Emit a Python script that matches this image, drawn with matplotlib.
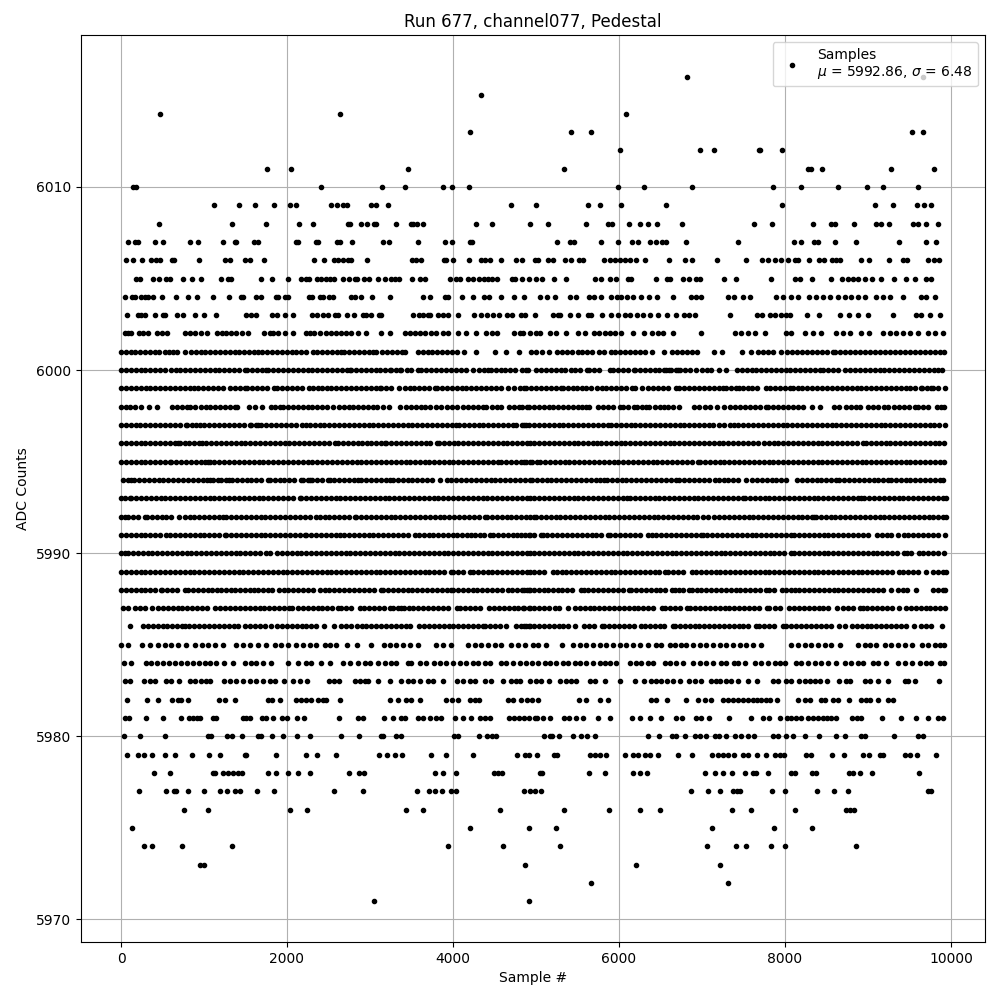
import matplotlib
matplotlib.use("Agg")
import matplotlib.pyplot as plt

title = "Run 677, channel077, Pedestal"
mean_adc = 5992.86
sigma_adc = 6.48

s6016 = [6819, 9663]
s6015 = [4337]
s6014 = [470, 2639, 6084]
s6013 = [4205, 5422, 5663, 9530, 9663]
s6012 = [6008, 6976, 7145, 7687, 7700, 7964]
s6011 = [1759, 2048, 3458, 5337, 8277, 8317, 8446, 9277, 9795]
s6010 = [145, 185, 2410, 3145, 3422, 3880, 3988, 4193, 5988, 6301, 6880, 7855, 8193, 8639, 8988, 9181, 9602]
s6009 = [1120, 1422, 1614, 1843, 2032, 2112, 2534, 2602, 2675, 2723, 3008, 3076, 3217, 4699, 5000, 5627, 5771, 6024, 6566, 7964, 9084, 9301, 9590, 9679, 9763]
s6008 = [458, 1337, 1747, 2145, 2313, 2735, 2763, 2892, 2964, 3044, 3076, 3313, 3490, 3518, 3566, 3638, 4277, 4470, 4928, 5145, 5598, 5867, 5920, 6120, 6253, 6349, 6458, 6759, 7626, 7843, 8337, 8550, 8606, 8831, 9100, 9153, 9253, 9542, 9602, 9699, 9843]
s6007 = [84, 165, 205, 410, 506, 831, 928, 1229, 1370, 1390, 1598, 1655, 2104, 2128, 2345, 2377, 2602, 2635, 2783, 3157, 3229, 3578, 3904, 3988, 4205, 4229, 5253, 5414, 5458, 5783, 5988, 6157, 6229, 6369, 6442, 6514, 6562, 6807, 7434, 8108, 8193, 8345, 8402, 8602, 8855, 9373, 9699, 9819]
s6006 = [60, 145, 253, 361, 426, 466, 614, 643, 940, 1249, 1313, 1494, 1558, 1723, 2325, 2446, 2566, 2614, 2675, 2735, 2767, 2964, 3506, 3558, 3614, 3888, 3920, 4000, 4193, 4337, 4390, 4450, 4578, 4759, 4835, 4988, 5024, 5145, 5205, 5345, 5422, 5518, 5566, 5819, 5888, 5948, 6008, 6068, 6128, 6201, 6313, 6598, 6795, 6880, 7181, 7534, 7723, 7795, 7875, 7956, 8036, 8116, 8157, 8289, 8410, 8466, 8566, 8618, 8667, 8916, 9012, 9253, 9422, 9474, 9723, 9795, 9859]
s6005 = [185, 225, 386, 458, 546, 586, 747, 855, 964, 1205, 1289, 1321, 1687, 1819, 2012, 2169, 2233, 2265, 2361, 2414, 2466, 2514, 2570, 2675, 2747, 2815, 2847, 2928, 2988, 3096, 3177, 3249, 3297, 3349, 3506, 3602, 3663, 3964, 4040, 4080, 4181, 4241, 4313, 4370, 4422, 4470, 4530, 4715, 4743, 4831, 4916, 5004, 5076, 5213, 5357, 5715, 5787, 5888, 5960, 6108, 6149, 6446, 6578, 6618, 6771, 6839, 6932, 6980, 7265, 7406, 7831, 8116, 8177, 8321, 8558, 8691, 8759, 8819, 8880, 8960, 9052, 9161, 9309, 9462, 9570, 9703, 9763]
s6004 = [44, 137, 165, 241, 285, 325, 386, 490, 663, 807, 916, 1108, 1301, 1446, 1470, 1631, 1691, 1871, 1892, 1972, 2016, 2265, 2305, 2402, 2434, 2502, 2554, 2771, 2819, 2892, 3024, 3241, 3638, 3723, 3904, 3940, 4108, 4241, 4373, 4430, 4578, 4735, 4855, 5044, 5133, 5225, 5414, 5486, 5639, 5695, 5783, 5900, 5976, 6028, 6096, 6169, 6269, 6361, 6458, 6651, 6871, 6932, 6992, 7317, 7386, 7494, 7574, 7888, 7976, 8068, 8157, 8289, 8378, 8458, 8538, 8639, 8719, 8799, 8880, 8960, 9100, 9181, 9261, 9422, 9643, 9703, 9803]
s6003 = [72, 205, 245, 285, 410, 506, 534, 675, 747, 892, 1000, 1145, 1510, 1570, 1622, 1819, 1879, 1980, 2072, 2301, 2361, 2434, 2498, 2574, 2614, 2727, 2803, 2916, 2956, 3016, 3104, 3136, 3518, 3590, 3638, 3699, 3727, 3819, 3879, 3940, 4056, 4249, 4341, 4410, 4482, 4554, 4655, 4715, 4823, 4863, 4984, 5205, 5265, 5293, 5414, 5506, 5627, 5667, 5795, 5908, 5988, 6068, 6128, 6217, 6289, 6369, 6470, 6578, 6683, 6779, 6843, 6920, 7333, 7663, 7727, 7815, 7875, 7956, 8016, 8064, 8265, 8410, 8659, 8775, 8880, 9000, 9301, 9582, 9643, 9743, 9863]
s6002 = [44, 84, 124, 217, 265, 325, 438, 498, 554, 767, 827, 888, 968, 1036, 1157, 1221, 1269, 1329, 1390, 1458, 1530, 1723, 1791, 1831, 1892, 1972, 2072, 2225, 2273, 2325, 2402, 2466, 2534, 2594, 2654, 2715, 2775, 2855, 2948, 3136, 3237, 3418, 3478, 3538, 3606, 3659, 3739, 3799, 3879, 3940, 4060, 4161, 4281, 4394, 4474, 4530, 4731, 4803, 4843, 4924, 5004, 5044, 5165, 5245, 5357, 5506, 5586, 5695, 5759, 5827, 5888, 5948, 6028, 6169, 6301, 6398, 6470, 6530, 6651, 6988, 7394, 7474, 7554, 7635, 7755, 8016, 8076, 8237, 8337, 8438, 8610, 8699, 8779, 8920, 9012, 9181, 9261, 9341, 9422, 9502, 9602, 9723, 9803, 9904]
s6001 = [2, 63, 118, 171, 225, 285, 346, 405, 458, 526, 581, 628, 675, 767, 847, 905, 962, 1008, 1076, 1133, 1195, 1252, 1311, 1368, 1427, 1485, 1540, 1603, 1655, 1703, 1759, 1822, 1878, 1937, 1998, 2064, 2104, 2168, 2233, 2313, 2361, 2420, 2478, 2540, 2598, 2654, 2687, 2747, 2805, 2868, 2925, 2985, 3040, 3076, 3149, 3205, 3268, 3325, 3380, 3418, 3578, 3635, 3695, 3752, 3812, 3870, 3928, 3985, 4045, 4129, 4273, 4510, 4635, 4795, 4940, 5004, 5068, 5161, 5253, 5309, 5370, 5433, 5510, 5550, 5614, 5675, 5763, 5823, 5904, 5952, 6010, 6072, 6130, 6193, 6250, 6312, 6394, 6546, 6635, 6695, 6758, 6818, 6880, 6940, 7149, 7237, 7478, 7590, 7671, 7731, 7792, 7855, 7952, 8024, 8085, 8143, 8204, 8262, 8326, 8385, 8447, 8510, 8574, 8602, 8660, 8721, 8785, 8842, 8905, 8966, 9025, 9090, 9145, 9208, 9270, 9328, 9390, 9445, 9510, 9565, 9628, 9688, 9745, 9805, 9862, 9920]
s6000 = [0, 60, 115, 178, 236, 295, 352, 413, 470, 532, 598, 658, 715, 773, 835, 890, 950, 1012, 1070, 1128, 1185, 1246, 1305, 1363, 1422, 1490, 1518, 1578, 1637, 1695, 1751, 1771, 1830, 1892, 1950, 2010, 2068, 2129, 2190, 2248, 2307, 2365, 2425, 2483, 2544, 2602, 2660, 2720, 2755, 2775, 2835, 2892, 2954, 3014, 3076, 3124, 3182, 3237, 3249, 3308, 3358, 3378, 3440, 3498, 3578, 3618, 3680, 3738, 3797, 3856, 3915, 3974, 4035, 4095, 4156, 4241, 4313, 4368, 4422, 4454, 4515, 4575, 4632, 4690, 4750, 4835, 4883, 4900, 5000, 5060, 5120, 5178, 5238, 5296, 5355, 5416, 5474, 5534, 5614, 5643, 5700, 5763, 5896, 5924, 5985, 6044, 6105, 6177, 6193, 6252, 6310, 6372, 6430, 6488, 6546, 6570, 6600, 6626, 6685, 6707, 6739, 6798, 6858, 6932, 6996, 7056, 7112, 7209, 7289, 7418, 7478, 7542, 7598, 7651, 7712, 7770, 7830, 7888, 7948, 8008, 8066, 8125, 8184, 8244, 8303, 8362, 8426, 8454, 8515, 8575, 8635, 8723, 8783, 8842, 8902, 8960, 9022, 9080, 9140, 9198, 9258, 9316, 9376, 9435, 9494, 9553, 9612, 9672, 9730, 9790, 9839, 9892]
s5999 = [0, 58, 120, 178, 238, 296, 354, 415, 474, 532, 590, 650, 708, 768, 826, 875, 928, 988, 1048, 1105, 1165, 1224, 1309, 1369, 1428, 1490, 1518, 1578, 1636, 1696, 1755, 1839, 1880, 1938, 1998, 2056, 2116, 2176, 2265, 2313, 2373, 2418, 2478, 2536, 2596, 2656, 2714, 2774, 2832, 2892, 2950, 3010, 3068, 3116, 3137, 3196, 3256, 3345, 3418, 3476, 3535, 3594, 3654, 3712, 3779, 3807, 3866, 3925, 3985, 4044, 4103, 4162, 4220, 4280, 4338, 4398, 4456, 4516, 4574, 4662, 4731, 4811, 4859, 4883, 4945, 5003, 5062, 5122, 5180, 5240, 5301, 5321, 5380, 5440, 5498, 5558, 5602, 5663, 5731, 5790, 5848, 5908, 5967, 6026, 6085, 6153, 6197, 6273, 6353, 6412, 6471, 6530, 6590, 6691, 6727, 6786, 6845, 6904, 6964, 7022, 7082, 7140, 7200, 7249, 7289, 7348, 7408, 7450, 7490, 7549, 7608, 7668, 7771, 7823, 7882, 7942, 8002, 8064, 8092, 8151, 8210, 8270, 8330, 8388, 8448, 8506, 8566, 8625, 8684, 8744, 8802, 8862, 8920, 8980, 9040, 9098, 9158, 9216, 9276, 9335, 9394, 9454, 9512, 9572, 9638, 9651, 9712, 9759, 9779, 9838, 9928]
s5998 = [0, 58, 108, 165, 245, 338, 434, 614, 672, 730, 790, 827, 896, 960, 1020, 1078, 1138, 1196, 1256, 1314, 1374, 1402, 1538, 1610, 1699, 1811, 1860, 1912, 1952, 2012, 2070, 2130, 2188, 2248, 2306, 2366, 2424, 2484, 2554, 2626, 2685, 2744, 2795, 2855, 2914, 2972, 3032, 3090, 3157, 3229, 3357, 3430, 3490, 3550, 3618, 3658, 3718, 3799, 3859, 3928, 3988, 4048, 4120, 4181, 4240, 4300, 4360, 4402, 4474, 4530, 4582, 4675, 4735, 4795, 4835, 4896, 4920, 4980, 5040, 5100, 5161, 5201, 5260, 5320, 5380, 5440, 5510, 5550, 5600, 5643, 5751, 5810, 5870, 5930, 6012, 6044, 6104, 6185, 6217, 6275, 6325, 6357, 6434, 6490, 6538, 6594, 6655, 6727, 6900, 6960, 7036, 7100, 7177, 7269, 7341, 7400, 7460, 7520, 7580, 7640, 7700, 7771, 7799, 7860, 7920, 7980, 8040, 8100, 8160, 8220, 8321, 8422, 8594, 8655, 8730, 8790, 8850, 8908, 8996, 9055, 9115, 9197, 9237, 9309, 9370, 9430, 9490, 9566, 9598, 9660, 9727, 9831, 9880, 9920]
s5997 = [0, 58, 116, 176, 234, 294, 352, 412, 470, 530, 588, 648, 706, 783, 795, 850, 900, 948, 1006, 1066, 1124, 1184, 1242, 1302, 1360, 1420, 1478, 1550, 1570, 1625, 1651, 1691, 1750, 1810, 1868, 1928, 1986, 2046, 2104, 2185, 2233, 2273, 2332, 2392, 2450, 2510, 2568, 2628, 2686, 2746, 2804, 2864, 2922, 2982, 3040, 3100, 3158, 3218, 3276, 3336, 3394, 3454, 3512, 3572, 3630, 3690, 3748, 3808, 3866, 3926, 3984, 4040, 4072, 4130, 4190, 4248, 4308, 4366, 4426, 4484, 4544, 4602, 4662, 4723, 4755, 4835, 4883, 4859, 4918, 4976, 5036, 5094, 5154, 5212, 5272, 5330, 5390, 5448, 5508, 5566, 5626, 5684, 5744, 5802, 5863, 5904, 5962, 6022, 6080, 6140, 6198, 6258, 6316, 6376, 6434, 6494, 6552, 6612, 6670, 6730, 6788, 6848, 6906, 6966, 7024, 7084, 7128, 7209, 7268, 7341, 7381, 7440, 7500, 7558, 7618, 7676, 7736, 7794, 7854, 7912, 7972, 8030, 8090, 8148, 8208, 8266, 8326, 8384, 8444, 8502, 8562, 8620, 8680, 8738, 8798, 8856, 8916, 8974, 9034, 9092, 9152, 9210, 9270, 9328, 9388, 9446, 9506, 9564, 9624, 9682, 9742, 9800, 9860, 9932]
s5996 = [0, 58, 118, 176, 236, 294, 354, 412, 472, 530, 590, 648, 687, 707, 766, 824, 884, 942, 980, 1028, 1087, 1146, 1204, 1264, 1322, 1382, 1440, 1500, 1558, 1618, 1676, 1736, 1794, 1854, 1912, 1972, 2030, 2090, 2148, 2208, 2266, 2326, 2384, 2444, 2502, 2574, 2614, 2672, 2732, 2790, 2850, 2908, 2968, 3016, 3075, 3134, 3177, 3197, 3256, 3316, 3374, 3434, 3492, 3552, 3610, 3670, 3728, 3807, 3831, 3890, 3948, 4008, 4066, 4126, 4184, 4244, 4302, 4362, 4420, 4480, 4538, 4598, 4656, 4716, 4774, 4834, 4892, 4923, 4982, 5040, 5100, 5158, 5218, 5276, 5336, 5394, 5454, 5512, 5572, 5630, 5690, 5735, 5783, 5842, 5902, 5960, 6020, 6078, 6138, 6196, 6256, 6314, 6374, 6432, 6492, 6550, 6610, 6668, 6728, 6786, 6846, 6904, 6964, 7022, 7082, 7140, 7200, 7258, 7318, 7376, 7436, 7494, 7554, 7612, 7672, 7743, 7803, 7862, 7920, 7980, 8038, 8098, 8156, 8216, 8274, 8334, 8392, 8452, 8510, 8570, 8628, 8688, 8746, 8806, 8864, 8936, 8976, 9035, 9094, 9152, 9212, 9270, 9330, 9388, 9448, 9506, 9566, 9624, 9684, 9742, 9802, 9860, 9920]
s5995 = [0, 58, 118, 176, 236, 294, 354, 412, 472, 530, 586, 606, 665, 724, 782, 842, 900, 960, 1018, 1048, 1068, 1126, 1186, 1244, 1304, 1362, 1422, 1480, 1540, 1598, 1658, 1716, 1776, 1834, 1894, 1952, 2012, 2070, 2130, 2188, 2248, 2306, 2366, 2424, 2484, 2542, 2602, 2660, 2720, 2778, 2838, 2896, 2956, 3014, 3074, 3132, 3192, 3250, 3310, 3368, 3428, 3486, 3546, 3604, 3658, 3711, 3770, 3830, 3888, 3948, 4006, 4066, 4124, 4184, 4242, 4302, 4360, 4420, 4478, 4542, 4582, 4640, 4700, 4758, 4818, 4876, 4923, 4859, 4955, 5012, 5048, 5108, 5166, 5226, 5284, 5344, 5402, 5462, 5520, 5580, 5638, 5698, 5756, 5816, 5874, 5934, 5992, 6052, 6110, 6170, 6228, 6288, 6346, 6406, 6464, 6524, 6582, 6642, 6700, 6760, 6818, 6878, 6956, 6976, 7034, 7094, 7152, 7212, 7270, 7330, 7388, 7448, 7506, 7566, 7624, 7684, 7742, 7802, 7860, 7920, 7978, 8038, 8096, 8156, 8214, 8274, 8332, 8392, 8450, 8510, 8568, 8628, 8686, 8746, 8804, 8864, 8922, 8982, 9040, 9100, 9158, 9218, 9276, 9336, 9394, 9454, 9512, 9572, 9630, 9690, 9748, 9808, 9866, 9920]
s5994 = [24, 80, 124, 157, 216, 274, 334, 392, 452, 510, 570, 628, 688, 746, 806, 864, 924, 982, 1042, 1076, 1108, 1169, 1209, 1265, 1301, 1337, 1396, 1454, 1514, 1572, 1632, 1690, 1771, 1791, 1850, 1910, 1968, 2028, 2086, 2165, 2193, 2250, 2273, 2305, 2365, 2423, 2494, 2514, 2572, 2632, 2690, 2750, 2808, 2855, 2895, 2954, 3012, 3072, 3130, 3190, 3237, 3277, 3336, 3394, 3454, 3512, 3572, 3630, 3690, 3748, 3847, 3932, 3980, 4038, 4098, 4156, 4216, 4274, 4334, 4392, 4452, 4510, 4570, 4628, 4688, 4746, 4806, 4864, 4923, 4950, 5010, 5068, 5128, 5186, 5246, 5304, 5364, 5422, 5482, 5540, 5600, 5658, 5718, 5776, 5823, 5855, 5914, 5972, 6032, 6090, 6150, 6208, 6268, 6326, 6386, 6444, 6504, 6562, 6622, 6687, 6727, 6786, 6844, 6904, 6962, 7022, 7080, 7157, 7201, 7260, 7318, 7378, 7436, 7530, 7602, 7660, 7720, 7778, 7838, 7896, 7956, 8012, 8145, 8204, 8262, 8322, 8380, 8440, 8498, 8558, 8614, 8655, 8714, 8772, 8832, 8890, 8950, 9008, 9068, 9126, 9186, 9245, 9277, 9336, 9394, 9454, 9512, 9572, 9630, 9690, 9748, 9808, 9866, 9900]
s5993 = [0, 50, 104, 124, 183, 242, 300, 360, 418, 478, 536, 596, 654, 714, 772, 832, 890, 950, 1008, 1068, 1126, 1186, 1244, 1304, 1362, 1422, 1480, 1540, 1598, 1658, 1716, 1776, 1834, 1894, 1952, 2012, 2070, 2153, 2173, 2232, 2290, 2350, 2408, 2468, 2526, 2586, 2644, 2704, 2762, 2822, 2880, 2940, 2998, 3058, 3116, 3176, 3234, 3294, 3352, 3412, 3470, 3530, 3588, 3648, 3706, 3766, 3824, 3884, 3942, 4002, 4060, 4120, 4178, 4238, 4296, 4356, 4414, 4474, 4532, 4592, 4650, 4710, 4768, 4828, 4886, 4923, 4982, 5040, 5100, 5158, 5218, 5276, 5336, 5394, 5454, 5512, 5572, 5630, 5690, 5748, 5808, 5866, 5926, 5984, 6044, 6096, 6133, 6192, 6250, 6310, 6368, 6428, 6486, 6546, 6604, 6664, 6722, 6782, 6840, 6900, 6958, 7018, 7076, 7136, 7194, 7254, 7312, 7372, 7430, 7490, 7518, 7576, 7636, 7694, 7754, 7812, 7872, 7930, 7990, 8048, 8108, 8166, 8226, 8284, 8344, 8402, 8462, 8520, 8580, 8638, 8698, 8756, 8816, 8874, 8916, 8956, 9014, 9074, 9132, 9192, 9250, 9310, 9368, 9428, 9486, 9546, 9604, 9664, 9722, 9782, 9840, 9900, 9940]
s5992 = [0, 44, 84, 142, 200, 285, 313, 372, 430, 490, 548, 608, 699, 767, 827, 885, 945, 1003, 1063, 1121, 1181, 1229, 1269, 1328, 1386, 1446, 1504, 1564, 1622, 1682, 1740, 1800, 1858, 1918, 1976, 2036, 2094, 2154, 2212, 2272, 2353, 2393, 2452, 2510, 2570, 2628, 2688, 2746, 2815, 2835, 2894, 2952, 3012, 3070, 3130, 3188, 3248, 3306, 3366, 3424, 3484, 3542, 3602, 3660, 3720, 3778, 3838, 3896, 3956, 4014, 4074, 4132, 4192, 4250, 4310, 4382, 4410, 4468, 4528, 4586, 4646, 4704, 4764, 4822, 4882, 4923, 4972, 5000, 5058, 5118, 5176, 5236, 5294, 5354, 5412, 5472, 5530, 5590, 5648, 5708, 5766, 5826, 5884, 5944, 6002, 6062, 6120, 6180, 6238, 6298, 6356, 6416, 6474, 6534, 6592, 6652, 6710, 6770, 6828, 6888, 6946, 7008, 7076, 7149, 7208, 7266, 7326, 7384, 7444, 7502, 7562, 7620, 7680, 7738, 7798, 7856, 7916, 7974, 8034, 8092, 8152, 8210, 8270, 8328, 8353, 8373, 8432, 8490, 8550, 8608, 8668, 8726, 8786, 8844, 8904, 8962, 9022, 9080, 9140, 9198, 9258, 9316, 9376, 9434, 9494, 9552, 9612, 9670, 9730, 9788, 9848, 9906, 9940]
s5991 = [0, 58, 118, 176, 236, 294, 354, 412, 472, 546, 594, 652, 712, 770, 830, 888, 948, 1006, 1066, 1124, 1184, 1249, 1269, 1328, 1386, 1446, 1504, 1564, 1622, 1682, 1740, 1800, 1858, 1918, 1976, 2036, 2094, 2154, 2213, 2233, 2292, 2350, 2410, 2468, 2528, 2586, 2642, 2687, 2746, 2804, 2864, 2922, 2982, 3040, 3100, 3158, 3218, 3276, 3336, 3394, 3454, 3538, 3590, 3650, 3708, 3759, 3819, 3878, 3936, 3996, 4054, 4114, 4172, 4221, 4261, 4320, 4378, 4442, 4482, 4540, 4600, 4658, 4718, 4776, 4823, 4863, 4923, 4920, 4980, 5060, 5080, 5138, 5198, 5256, 5316, 5374, 5434, 5492, 5552, 5610, 5670, 5728, 5788, 5863, 5896, 5954, 6014, 6072, 6132, 6190, 6250, 6353, 6394, 6452, 6512, 6570, 6630, 6688, 6748, 6806, 6866, 6924, 6988, 7008, 7066, 7126, 7184, 7244, 7302, 7362, 7420, 7480, 7538, 7598, 7656, 7716, 7774, 7834, 7892, 7952, 8010, 8072, 8112, 8170, 8230, 8288, 8348, 8406, 8466, 8524, 8584, 8642, 8702, 8760, 8820, 8878, 8938, 8996, 9108, 9165, 9224, 9282, 9365, 9430, 9488, 9548, 9606, 9666, 9724, 9784, 9842, 9928]
s5990 = [0, 44, 84, 142, 202, 260, 320, 378, 438, 496, 556, 614, 674, 732, 792, 847, 908, 966, 1026, 1084, 1144, 1202, 1262, 1320, 1380, 1438, 1498, 1556, 1616, 1674, 1751, 1799, 1880, 1938, 1998, 2056, 2116, 2174, 2234, 2292, 2352, 2410, 2470, 2528, 2588, 2646, 2706, 2764, 2824, 2882, 2942, 3000, 3060, 3118, 3178, 3236, 3296, 3354, 3414, 3472, 3532, 3590, 3650, 3708, 3768, 3826, 3886, 3944, 4004, 4062, 4122, 4180, 4240, 4298, 4358, 4416, 4476, 4534, 4594, 4652, 4712, 4770, 4830, 4888, 4923, 4982, 5040, 5100, 5158, 5218, 5276, 5336, 5394, 5454, 5512, 5572, 5630, 5690, 5748, 5808, 5866, 5926, 5984, 6044, 6102, 6162, 6220, 6280, 6338, 6398, 6456, 6516, 6574, 6634, 6692, 6752, 6810, 6870, 6928, 6988, 7046, 7106, 7164, 7224, 7282, 7342, 7400, 7460, 7518, 7578, 7636, 7696, 7754, 7814, 7872, 7932, 7990, 8072, 8112, 8170, 8230, 8288, 8348, 8406, 8466, 8524, 8584, 8642, 8702, 8760, 8820, 8878, 8938, 8996, 9056, 9114, 9174, 9232, 9292, 9350, 9438, 9466, 9524, 9618, 9666, 9724, 9784, 9842, 9920]
s5989 = [0, 58, 118, 176, 236, 294, 354, 412, 472, 530, 590, 648, 708, 766, 826, 884, 944, 1002, 1062, 1120, 1180, 1238, 1298, 1356, 1416, 1474, 1534, 1592, 1652, 1710, 1770, 1828, 1888, 1946, 2006, 2064, 2124, 2182, 2242, 2300, 2360, 2418, 2478, 2536, 2596, 2654, 2714, 2772, 2832, 2890, 2950, 3008, 3068, 3126, 3186, 3244, 3304, 3362, 3422, 3480, 3540, 3598, 3658, 3716, 3776, 3834, 3894, 3980, 4000, 4058, 4118, 4209, 4241, 4300, 4358, 4418, 4476, 4536, 4594, 4654, 4712, 4772, 4830, 4890, 4923, 4982, 5040, 5100, 5201, 5249, 5308, 5366, 5426, 5484, 5544, 5602, 5662, 5720, 5780, 5838, 5898, 5956, 6016, 6074, 6134, 6192, 6252, 6310, 6370, 6428, 6488, 6554, 6594, 6652, 6712, 6770, 6880, 6928, 6986, 7046, 7104, 7164, 7222, 7282, 7340, 7400, 7458, 7518, 7576, 7636, 7694, 7754, 7812, 7872, 7930, 7990, 8048, 8108, 8166, 8226, 8284, 8344, 8402, 8462, 8520, 8580, 8638, 8698, 8756, 8816, 8874, 8934, 8992, 9052, 9110, 9170, 9228, 9288, 9378, 9426, 9484, 9544, 9602, 9699, 9779, 9838, 9898, 9940]
s5988 = [0, 58, 118, 176, 236, 294, 354, 412, 478, 494, 552, 612, 670, 767, 807, 865, 925, 983, 1043, 1101, 1161, 1209, 1261, 1320, 1378, 1438, 1496, 1558, 1602, 1654, 1715, 1776, 1816, 1900, 1958, 2018, 2076, 2136, 2194, 2254, 2312, 2402, 2454, 2512, 2572, 2630, 2690, 2748, 2808, 2866, 2926, 2984, 3044, 3137, 3157, 3216, 3274, 3334, 3392, 3452, 3510, 3570, 3628, 3688, 3746, 3806, 3864, 3924, 3980, 4000, 4058, 4118, 4176, 4236, 4294, 4354, 4412, 4472, 4530, 4590, 4662, 4715, 4774, 4834, 4892, 4923, 4859, 4918, 4976, 5036, 5094, 5149, 5201, 5260, 5318, 5378, 5436, 5542, 5574, 5632, 5692, 5750, 5810, 5868, 5928, 5986, 6046, 6124, 6145, 6204, 6262, 6322, 6380, 6440, 6498, 6558, 6635, 6675, 6727, 6775, 6840, 6875, 6934, 6992, 7052, 7110, 7170, 7228, 7288, 7346, 7406, 7464, 7524, 7582, 7642, 7700, 7771, 7803, 7871, 7960, 8018, 8078, 8120, 8173, 8232, 8290, 8350, 8408, 8468, 8534, 8586, 8644, 8704, 8762, 8822, 8880, 8940, 8998, 9058, 9116, 9176, 9277, 9357, 9416, 9474, 9578, 9779, 9838, 9898, 9928]
s5987 = [24, 84, 165, 233, 292, 373, 446, 504, 564, 622, 682, 740, 800, 858, 918, 976, 1036, 1129, 1197, 1255, 1315, 1373, 1433, 1491, 1551, 1609, 1669, 1727, 1787, 1845, 1905, 1963, 2024, 2060, 2133, 2191, 2251, 2309, 2369, 2427, 2487, 2545, 2614, 2655, 2713, 2773, 2875, 2928, 2987, 3045, 3105, 3163, 3237, 3277, 3336, 3377, 3405, 3464, 3522, 3582, 3640, 3700, 3758, 3818, 3876, 3936, 4048, 4088, 4146, 4206, 4264, 4324, 4434, 4494, 4552, 4612, 4670, 4730, 4788, 4848, 4923, 4859, 4918, 4976, 5036, 5094, 5154, 5229, 5273, 5382, 5470, 5528, 5588, 5646, 5695, 5763, 5822, 5880, 5940, 5998, 6058, 6116, 6176, 6234, 6294, 6352, 6412, 6514, 6558, 6616, 6676, 6734, 6819, 6859, 6918, 6976, 7036, 7094, 7154, 7212, 7272, 7330, 7390, 7448, 7508, 7566, 7626, 7684, 7783, 7812, 7875, 7935, 8052, 8110, 8170, 8228, 8288, 8346, 8406, 8464, 8524, 8626, 8695, 8763, 8822, 8908, 8936, 8994, 9054, 9112, 9172, 9230, 9290, 9378, 9458, 9516, 9576, 9634, 9694, 9752, 9812, 9870, 9928]
s5986 = [112, 265, 323, 383, 441, 501, 559, 619, 677, 735, 767, 825, 885, 943, 1003, 1061, 1121, 1179, 1239, 1297, 1357, 1410, 1498, 1556, 1616, 1674, 1734, 1811, 1879, 1940, 1998, 2058, 2116, 2176, 2234, 2294, 2352, 2442, 2566, 2655, 2713, 2773, 2843, 2903, 2956, 3014, 3074, 3132, 3192, 3250, 3310, 3368, 3428, 3486, 3590, 3651, 3710, 3768, 3828, 3886, 3946, 4004, 4064, 4122, 4182, 4240, 4300, 4361, 4390, 4448, 4508, 4566, 4642, 4763, 4822, 4880, 4923, 4859, 4918, 4976, 5036, 5094, 5154, 5212, 5272, 5330, 5390, 5470, 5582, 5640, 5700, 5791, 5823, 5882, 5940, 6000, 6058, 6118, 6176, 6265, 6313, 6372, 6430, 6490, 6548, 6647, 6675, 6734, 6792, 6852, 6910, 6970, 7028, 7088, 7146, 7206, 7264, 7324, 7382, 7442, 7500, 7560, 7651, 7691, 7750, 7808, 7868, 7972, 8012, 8070, 8130, 8188, 8248, 8313, 8373, 8432, 8490, 8550, 8655, 8723, 8807, 8866, 8924, 8984, 9042, 9102, 9160, 9220, 9278, 9338, 9396, 9456, 9550, 9638, 9696, 9759, 9892]
s5985 = [4, 84, 257, 345, 446, 526, 606, 687, 787, 888, 980, 1048, 1129, 1229, 1382, 1470, 1550, 1651, 1751, 1851, 1932, 2012, 2112, 2193, 2273, 2353, 2454, 2522, 2586, 2723, 2843, 3016, 3165, 3237, 3317, 3398, 3478, 3578, 3799, 3879, 3980, 4181, 4261, 4341, 4422, 4502, 4582, 4703, 4783, 4863, 4964, 5024, 5124, 5313, 5446, 5526, 5606, 5687, 5767, 5847, 5928, 6008, 6088, 6169, 6249, 6349, 6450, 6510, 6610, 6671, 6751, 6811, 6892, 6972, 7052, 7133, 7213, 7293, 7373, 7454, 7534, 7614, 7715, 8076, 8157, 8237, 8317, 8398, 8478, 8558, 8659, 8880, 8960, 9020, 9100, 9201, 9281, 9361, 9450, 9530, 9655, 9723, 9803, 9871, 9916]
s5984 = [32, 124, 297, 365, 434, 506, 578, 655, 727, 795, 867, 940, 1008, 1076, 1149, 1241, 1349, 1490, 1570, 1631, 1711, 1803, 2012, 2133, 2233, 2293, 2414, 2522, 2675, 2763, 2855, 2936, 3004, 3096, 3177, 3257, 3317, 3458, 3498, 3598, 3679, 3767, 3839, 3920, 4000, 4080, 4161, 4241, 4301, 4382, 4450, 4582, 4643, 4723, 4803, 4883, 4956, 5024, 5104, 5165, 5245, 5325, 5386, 5466, 5526, 5606, 5687, 5767, 5827, 5888, 5960, 6128, 6209, 6269, 6349, 6410, 6550, 6610, 6691, 6771, 6892, 6972, 7052, 7133, 7233, 7293, 7381, 7434, 7514, 7635, 7715, 7795, 7875, 7936, 7996, 8137, 8197, 8277, 8357, 8438, 8518, 8618, 8719, 8799, 8880, 8940, 9060, 9120, 9221, 9361, 9442, 9530, 9622, 9703, 9763, 9863, 9916]
s5983 = [44, 112, 273, 345, 406, 538, 606, 699, 827, 888, 968, 1028, 1068, 1241, 1309, 1390, 1470, 1550, 1631, 1711, 1791, 1851, 1968, 2072, 2153, 2241, 2506, 2562, 2626, 2815, 2875, 2936, 2976, 3096, 3245, 3377, 3458, 3518, 3602, 3699, 3759, 3879, 4048, 4120, 4201, 4269, 4390, 4462, 4602, 4695, 4755, 4811, 4924, 5004, 5064, 5157, 5293, 5365, 5426, 5478, 5647, 5711, 5827, 6012, 6193, 6297, 6390, 6450, 6510, 6578, 6651, 6739, 6843, 6912, 6992, 7112, 7173, 7221, 7293, 7353, 7434, 7550, 7659, 7855, 7916, 8016, 8076, 8169, 8237, 8297, 8357, 8426, 8506, 8651, 8731, 8779, 8960, 9020, 9120, 9241, 9442, 9482, 9570, 9855]
s5982 = [72, 317, 446, 614, 687, 727, 807, 1181, 1249, 1369, 1771, 1819, 1916, 2112, 2173, 2233, 2293, 2373, 2434, 2474, 2638, 3241, 3337, 3434, 3498, 3602, 3920, 3992, 4060, 4209, 4261, 4313, 4663, 4723, 4823, 4895, 4956, 5024, 5518, 5606, 5771, 5871, 6390, 6442, 6578, 6807, 6952, 7032, 7112, 7253, 7313, 7373, 7434, 7494, 7554, 7614, 7663, 7715, 7767, 7815, 7908, 8157, 8237, 8297, 8438, 8478, 8578, 8639, 8771, 8920, 8980, 9028, 9120, 9241, 9301]
s5981 = [44, 92, 301, 506, 727, 819, 867, 916, 956, 1108, 1148, 1470, 1510, 1550, 1703, 1751, 1835, 1940, 2000, 2120, 2201, 2626, 2855, 2916, 3169, 3277, 3377, 3426, 3578, 3639, 3719, 3799, 3859, 4028, 4120, 4213, 4321, 4382, 4450, 4675, 4735, 4795, 4855, 4916, 4984, 5012, 5084, 5173, 5333, 5398, 5482, 5566, 5747, 5892, 6157, 6249, 6378, 6506, 6683, 6763, 6932, 6992, 7088, 7325, 7590, 7735, 7803, 7936, 8024, 8076, 8137, 8197, 8277, 8337, 8398, 8458, 8506, 8558, 8618, 8811, 8867, 8920, 9169, 9402, 9578, 9723, 9843, 9904]
s5980 = [40, 229, 530, 1048, 1088, 1277, 1333, 1458, 1651, 1683, 1819, 1952, 2120, 2277, 2651, 2867, 3136, 3157, 3317, 3377, 4016, 4056, 4313, 4410, 4474, 4522, 5092, 5165, 5197, 5277, 5446, 5546, 5614, 5711, 6349, 6482, 6643, 6691, 6795, 6920, 6972, 7048, 7153, 7205, 7293, 7394, 7474, 7554, 7622, 7855, 7916, 8012, 8096, 8237, 8410, 8618, 8719, 8920, 8968, 9313, 9602, 9663]
s5979 = [72, 205, 277, 373, 530, 651, 855, 1060, 1193, 1490, 1510, 1867, 2233, 2361, 2590, 3108, 3205, 3301, 3385, 3735, 3916, 4241, 4771, 4871, 4916, 5012, 5213, 5253, 5647, 5707, 5767, 5839, 6072, 6169, 6229, 6309, 6378, 6470, 6711, 6884, 7120, 7193, 7253, 7313, 7386, 7494, 7554, 7663, 7767, 7875, 7936, 7984, 8249, 8317, 8566, 8711, 8940, 9012, 9141, 9181, 9442, 9502, 9590, 9819]
s5978 = [398, 590, 1108, 1128, 1229, 1289, 1349, 1410, 1462, 1771, 1867, 2016, 2133, 2277, 2747, 2867, 2924, 3783, 3879, 4036, 4494, 4542, 4594, 5044, 5072, 5639, 5831, 6169, 6253, 6337, 7032, 7157, 7253, 7361, 7518, 7614, 7655, 7795, 8076, 8116, 8329, 8378, 8771, 8819, 8904, 9048, 9614]
s5977 = [217, 542, 639, 667, 807, 1000, 1193, 1277, 1369, 1434, 1639, 1843, 2566, 2916, 3566, 3711, 3783, 3867, 3980, 4040, 4855, 4924, 4984, 5064, 6867, 7072, 7217, 7373, 7422, 7462, 7843, 8000, 8386, 8590, 8759, 9723, 9755]
s5976 = [759, 1048, 2036, 2241, 3434, 3638, 4566, 5337, 5880, 6253, 6494, 7361, 7590, 8120, 8739, 8779, 8827]
s5975 = [133, 4205, 4916, 5241, 7120, 7867, 8325]
s5974 = [277, 373, 735, 1337, 3940, 4602, 5289, 7060, 7410, 7530, 7831, 8000, 8855]
s5973 = [956, 996, 4868, 6205, 7217]
s5972 = [5663, 7313]
s5971 = [3048, 4916]

levels = {6016: s6016, 6015: s6015, 6014: s6014, 6013: s6013, 6012: s6012, 6011: s6011, 6010: s6010,
          6009: s6009, 6008: s6008, 6007: s6007, 6006: s6006, 6005: s6005, 6004: s6004, 6003: s6003,
          6002: s6002, 6001: s6001, 6000: s6000, 5999: s5999, 5998: s5998, 5997: s5997, 5996: s5996,
          5995: s5995, 5994: s5994, 5993: s5993, 5992: s5992, 5991: s5991, 5990: s5990, 5989: s5989,
          5988: s5988, 5987: s5987, 5986: s5986, 5985: s5985, 5984: s5984, 5983: s5983, 5982: s5982,
          5981: s5981, 5980: s5980, 5979: s5979, 5978: s5978, 5977: s5977, 5976: s5976, 5975: s5975,
          5974: s5974, 5973: s5973, 5972: s5972, 5971: s5971}

samples = []
counts = []
for level, xs in levels.items():
    samples.extend(xs)
    counts.extend([level] * len(xs))

fig, ax = plt.subplots(figsize=(10, 10), dpi=100)
ax.plot(samples, counts, '.', color='k',
        label=f"Samples\n$\\mu$ = {mean_adc:.2f}, $\\sigma$ = {sigma_adc:.2f}")
ax.set_title(title)
ax.set_xlabel("Sample #")
ax.set_ylabel("ADC Counts")
ax.grid(True)
ax.legend(loc="upper right")
ax.set_xlim(-482, 10410)
ax.set_ylim(5968.77, 6018.3)
fig.subplots_adjust(left=0.081, right=0.985, top=0.965, bottom=0.058)
fig.savefig("out.png")
